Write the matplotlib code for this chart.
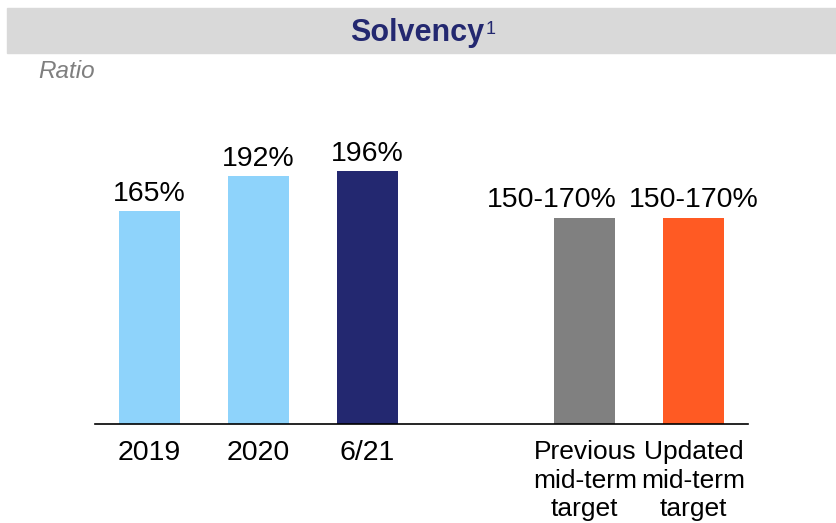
import matplotlib

matplotlib.use("Agg")
import matplotlib.pyplot as plt
from matplotlib.patches import Rectangle

plt.rcParams["font.family"] = ["Liberation Sans", "DejaVu Sans"]

# solvency ratio, %; the two targets are drawn at the middle of their range
categories = ["2019", "2020", "6/21", "Previous\nmid-term\ntarget", "Updated\nmid-term\ntarget"]
slots = [0, 1, 2, 4, 5]
values = [165, 192, 196, 160, 160]
value_labels = ["165%", "192%", "196%", "150-170%", "150-170%"]
colors = ["#8ED3FB", "#8ED3FB", "#232870", "#808080", "#FF5A23"]

W, H = 836, 523
fig = plt.figure(figsize=(W / 100, H / 100), dpi=100)

# grey header band
fig.patches.append(Rectangle((7 / W, 1 - 53 / H), 829 / W, 45 / H,
                             transform=fig.transFigure, color="#D9D9D9", zorder=0))
fig.text(484 / W, 1 - 41 / H, "Solvency", ha="right", va="baseline",
         fontsize=22, fontweight="bold", color="#232870")
fig.text(485.5 / W, 1 - 34 / H, "1", ha="left", va="baseline",
         fontsize=13, color="#232870")
fig.text(38 / W, 1 - 77.5 / H, "Ratio", ha="left", va="baseline",
         fontsize=17.5, style="italic", color="#7F7F7F")

ax = fig.add_axes([95 / W, 99 / H, 653 / W, 322.5 / H])
ax.bar(slots, values, width=0.56, color=colors)
ax.set_xlim(-0.5, 5.5)
ax.set_ylim(0, 250)

for s, v, lab in zip(slots, values, value_labels):
    dx = -24 if s == 4 else 0
    ax.annotate(lab, (s, v), xytext=(dx, 7.5), textcoords="offset points",
                ha="center", va="baseline", fontsize=20.5, color="black")

for sp in ["top", "right", "left"]:
    ax.spines[sp].set_visible(False)
ax.spines["bottom"].set_linewidth(1.2)
ax.set_yticks([])
ax.set_xticks(slots)
ax.set_xticklabels(categories)
ax.tick_params(axis="x", length=0, pad=11.5)
for i, t in enumerate(ax.get_xticklabels()):
    if i < 3:
        t.set_fontsize(20.5)
    else:
        t.set_fontsize(19)
        t.set_linespacing(1.25)

fig.savefig("out.png", dpi=100)
